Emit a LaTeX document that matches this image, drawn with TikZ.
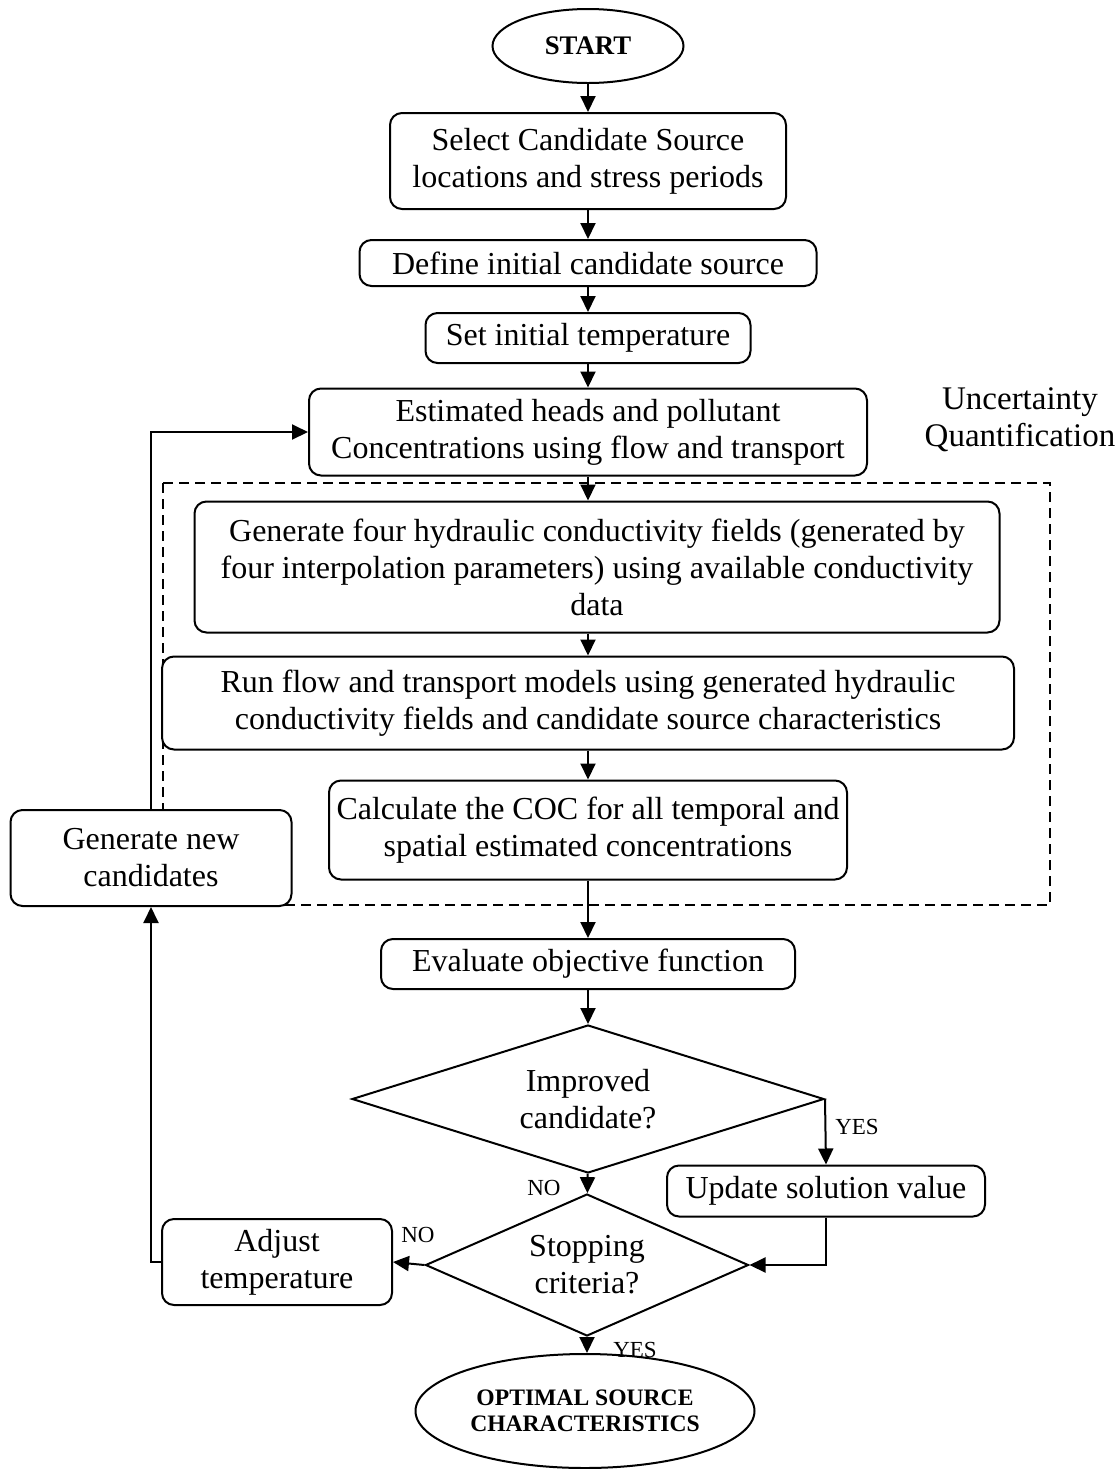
\documentclass[tikz,border=0pt]{standalone}
\usepackage{fontspec}
\setmainfont{Liberation Serif}
\usetikzlibrary{positioning, shapes.geometric, arrows.meta}

\begin{document}
\begin{tikzpicture}[
      x=0.5pt, y=-0.5pt,
      >={Triangle[length=8pt, width=7.5pt]},
      every node/.style={font=\fontsize{16}{18.5}\selectfont},
      box/.style={rectangle, rounded corners=6pt, draw, line width=1pt, fill=white,
        align=center, inner sep=2pt},
      term/.style={ellipse, draw, line width=1pt, fill=white, align=center, inner sep=0pt,
        font=\fontsize{11.8}{13.2}\selectfont\bfseries},
      test/.style={diamond, draw, line width=1pt, fill=white, align=center, inner sep=0pt},
      edge/.style={->, line width=1pt},
      lab/.style={font=\fontsize{11.5}{13}\selectfont, inner sep=1pt}
    ]
    \useasboundingbox (0,0) rectangle (1119,1469);

    % uncertainty block
    \draw[line width=1pt, dash pattern=on 5pt off 3pt] (163,483) rectangle (1050,905);
    \node[align=center, font=\fontsize{16.5}{18.5}\selectfont] (uq) at (1020,420) {Uncertainty\\Quantification};

    \node[term, minimum width=95.5pt, minimum height=37pt, font=\fontsize{13.4}{15}\selectfont\bfseries] (start) at (588,46) {START};
    \node[box, minimum width=198pt, minimum height=48pt] (select) at (588,161) {Select Candidate Source\\locations and stress periods};
    \node[box, minimum width=228.5pt, minimum height=23pt] (define) at (588,263) {Define initial candidate source};
    \node[box, minimum width=162.5pt, minimum height=25pt] (settemp) at (588,338) {Set initial temperature};
    \node[box, minimum width=279pt, minimum height=43.5pt] (estim) at (588,432) {Estimated heads and pollutant\\Concentrations using flow and transport};
    \node[box, minimum width=402.5pt, minimum height=65.5pt] (genfield) at (597,567) {Generate four hydraulic conductivity fields (generated by\\four interpolation parameters) using available conductivity\\data};
    \node[box, minimum width=426pt, minimum height=46.5pt] (runmod) at (588,703) {Run flow and transport models using generated hydraulic\\conductivity fields and candidate source characteristics};
    \node[box, minimum width=259pt, minimum height=49.5pt] (coc) at (588,830) {Calculate the COC for all temporal and\\spatial estimated concentrations};
    \node[box, minimum width=207pt, minimum height=25pt] (evalobj) at (588,964) {Evaluate objective function};
    \node[test, aspect=3.2, minimum width=236pt, minimum height=74pt] (improved) at (588,1099) {Improved\\candidate?};
    \node[box, minimum width=159pt, minimum height=25.5pt] (update) at (826,1191) {Update solution value};
    \node[test, aspect=2.3, minimum width=161.5pt, minimum height=71pt] (stopping) at (587,1265) {Stopping\\criteria?};
    \node[box, minimum width=115pt, minimum height=43pt] (adjust) at (277,1262) {Adjust\\temperature};
    \node[box, minimum width=140.5pt, minimum height=48pt] (newcand) at (151,858) {Generate new\\candidates};
    \node[term, minimum width=169.5pt, minimum height=57pt] (optimal) at (585,1411) {OPTIMAL SOURCE\\CHARACTERISTICS};

    \path[edge] (start) edge (select);
    \path[edge] (select) edge (define);
    \path[edge] (define) edge (settemp);
    \path[edge] (settemp) edge (estim);
    \path[edge] (estim) edge (estim |- genfield.north);
    \path[edge] (genfield.south -| runmod) edge (runmod);
    \path[edge] (runmod) edge (coc);
    \path[edge] (coc) edge (evalobj);
    \path[edge] (evalobj) edge (improved);
    \path[edge] (improved) edge (stopping);
    \path[edge] (improved.east) edge (update.north);
    \draw[edge] (update.south) |- (stopping.east);
    \path[edge] (stopping.west) edge (adjust.east);
    \draw[edge] (adjust.west) -| (newcand.south);
    \draw[edge] (newcand.north) |- (estim.west);
    \path[edge] (stopping.south) edge (stopping.south |- optimal.north);

    \node[lab] (no1) at (544,1188) {NO};
    \node[lab] (yes1) at (857,1127) {YES};
    \node[lab] (no2) at (418,1235) {NO};
    \node[lab] (yes2) at (635,1350) {YES};
  \end{tikzpicture}
\end{document}
